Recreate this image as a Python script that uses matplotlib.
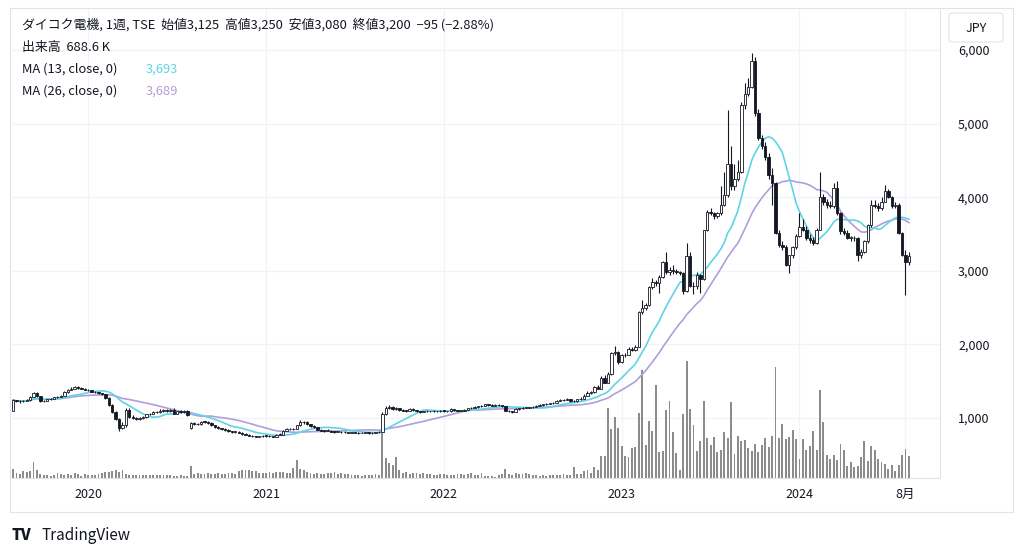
import matplotlib.pyplot as plt
import numpy as np
import pandas as pd
from matplotlib.patches import FancyBboxPatch, Rectangle

plt.rcParams['font.family'] = ['Noto Sans CJK JP', 'DejaVu Sans']

# weekly OHLC (JPY), first bar = week of 2019-08-05
opens = [
    1100, 1240, 1230, 1225, 1235, 1240, 1290, 1340, 1300, 1235, 1230, 1255, 1265, 1280, 1290, 1300, 1350, 1385, 1400, 1420,
    1410, 1400, 1385, 1375, 1360, 1350, 1335, 1320, 1270, 1180, 1080, 990, 870, 900, 1110, 1020, 1000, 990, 1000, 1010,
    1050, 1060, 1080, 1085, 1100, 1105, 1095, 1110, 1060, 1090, 1085, 1100, 870, 935, 920, 915, 950, 945, 930, 900,
    880, 860, 850, 840, 820, 810, 815, 800, 780, 770, 760, 750, 745, 750, 760, 755, 750, 745, 770, 775,
    830, 850, 845, 850, 900, 940, 950, 915, 890, 875, 840, 830, 825, 830, 815, 810, 815, 805, 810, 800,
    805, 800, 795, 800, 805, 790, 800, 805, 815, 1050, 1140, 1150, 1120, 1130, 1110, 1100, 1095, 1120, 1110, 1090,
    1085, 1090, 1095, 1090, 1095, 1090, 1100, 1095, 1090, 1120, 1105, 1100, 1100, 1110, 1130, 1140, 1150, 1160, 1170, 1185,
    1180, 1170, 1180, 1175, 1160, 1100, 1090, 1085, 1120, 1130, 1140, 1140, 1145, 1150, 1165, 1180, 1185, 1195, 1200, 1210,
    1230, 1240, 1250, 1260, 1230, 1225, 1255, 1260, 1300, 1345, 1350, 1420, 1400, 1550, 1480, 1600, 1880, 1900, 1760, 1850,
    1860, 1940, 1925, 1970, 2440, 2500, 2530, 2780, 2850, 2830, 2920, 3120, 2980, 3010, 3000, 2990, 2970, 2720, 3200, 2800,
    2790, 2950, 2890, 3550, 3800, 3790, 3750, 3780, 3900, 4030, 4450, 4150, 4250, 4350, 5250, 5400, 5500, 5850, 5150, 4800,
    4700, 4550, 4300, 4200, 3520, 3350, 3330, 3080, 3210, 3330, 3480, 3600, 3560, 3450, 3420, 3380, 3560, 4000, 3930, 3900,
    3880, 4130, 3790, 3540, 3520, 3450, 3450, 3440, 3220, 3260, 3400, 3620, 3900, 3880, 3850, 3940, 4090, 4010, 3880, 3900,
    3520, 3215, 3125,
]
highs = [
    1260, 1250, 1240, 1245, 1260, 1300, 1360, 1350, 1305, 1250, 1265, 1275, 1290, 1300, 1310, 1365, 1400, 1415, 1440, 1435,
    1420, 1410, 1395, 1385, 1370, 1360, 1345, 1325, 1280, 1190, 1090, 1000, 940, 1140, 1130, 1040, 1015, 1020, 1030, 1060,
    1075, 1095, 1100, 1120, 1125, 1120, 1125, 1130, 1100, 1105, 1115, 1105, 950, 945, 935, 965, 960, 955, 940, 910,
    890, 870, 860, 850, 830, 825, 820, 810, 790, 780, 770, 760, 760, 770, 770, 765, 760, 780, 790, 840,
    860, 860, 865, 910, 970, 965, 955, 925, 900, 880, 850, 840, 845, 835, 825, 825, 820, 820, 815, 815,
    810, 805, 810, 815, 810, 810, 815, 820, 1080, 1160, 1175, 1160, 1145, 1140, 1120, 1115, 1135, 1130, 1115, 1100,
    1100, 1105, 1100, 1105, 1100, 1110, 1105, 1100, 1130, 1125, 1115, 1110, 1120, 1140, 1150, 1160, 1170, 1180, 1195, 1195,
    1185, 1190, 1190, 1180, 1165, 1110, 1100, 1130, 1140, 1150, 1150, 1155, 1160, 1175, 1190, 1195, 1205, 1210, 1220, 1245,
    1255, 1265, 1275, 1265, 1245, 1265, 1280, 1320, 1370, 1370, 1440, 1450, 1570, 1590, 1620, 1900, 1980, 1910, 1870, 1880,
    1960, 1970, 1990, 2460, 2600, 2560, 2800, 2900, 2880, 2950, 3130, 3260, 3050, 3080, 3020, 3000, 2990, 3380, 3250, 2850,
    2980, 2960, 3560, 3830, 3850, 3800, 3800, 4150, 4350, 5180, 4700, 4450, 4500, 5300, 5550, 5620, 5960, 5900, 5200, 4850,
    4750, 4600, 4400, 4210, 3560, 3400, 3350, 3220, 3340, 3500, 3780, 3700, 3610, 3500, 3460, 3580, 4350, 4050, 3980, 3950,
    4200, 4220, 3800, 3580, 3550, 3480, 3480, 3460, 3300, 3420, 3640, 3960, 3960, 3920, 4000, 4170, 4110, 4020, 3940, 3920,
    3530, 3280, 3250,
]
lows = [
    1090, 1215, 1210, 1215, 1225, 1235, 1280, 1290, 1220, 1220, 1225, 1245, 1255, 1270, 1280, 1295, 1340, 1375, 1390, 1400,
    1390, 1375, 1365, 1350, 1340, 1325, 1310, 1260, 1170, 1070, 970, 820, 850, 880, 1000, 985, 970, 975, 990, 1000,
    1040, 1050, 1065, 1075, 1085, 1080, 1085, 1050, 1050, 1070, 1075, 1030, 855, 910, 905, 910, 935, 920, 895, 870,
    855, 840, 830, 815, 800, 800, 795, 775, 765, 755, 745, 740, 740, 745, 745, 745, 740, 740, 765, 770,
    820, 835, 835, 845, 895, 925, 905, 880, 865, 835, 820, 815, 820, 810, 800, 805, 800, 800, 795, 795,
    790, 785, 790, 795, 785, 785, 795, 800, 810, 1040, 1120, 1110, 1110, 1100, 1090, 1085, 1090, 1100, 1080, 1075,
    1080, 1085, 1080, 1085, 1080, 1085, 1085, 1080, 1085, 1095, 1090, 1090, 1095, 1105, 1120, 1130, 1140, 1150, 1160, 1170,
    1160, 1165, 1165, 1150, 1090, 1080, 1075, 1080, 1115, 1125, 1130, 1135, 1140, 1145, 1160, 1170, 1180, 1185, 1195, 1205,
    1225, 1230, 1240, 1220, 1215, 1220, 1245, 1255, 1295, 1330, 1345, 1390, 1395, 1470, 1470, 1590, 1850, 1740, 1750, 1830,
    1850, 1910, 1915, 1960, 2420, 2470, 2520, 2760, 2800, 2700, 2900, 2960, 2950, 2960, 2960, 2940, 2680, 2710, 2780, 2680,
    2760, 2700, 2880, 3540, 3760, 3700, 3720, 3760, 3880, 4000, 4100, 4100, 4220, 4330, 5200, 5380, 5480, 5100, 4780, 4650,
    4500, 4250, 3900, 3500, 3330, 3280, 3060, 2970, 3180, 3300, 3460, 3540, 3420, 3380, 3350, 3370, 3550, 3900, 3860, 3850,
    3860, 3760, 3500, 3490, 3430, 3410, 3400, 3130, 3180, 3240, 3380, 3600, 3850, 3820, 3830, 3930, 3990, 3860, 3850, 3500,
    3200, 2672, 3080,
]
closes = [
    1240, 1230, 1225, 1235, 1240, 1290, 1340, 1300, 1235, 1230, 1255, 1265, 1280, 1290, 1300, 1350, 1385, 1400, 1420, 1410,
    1400, 1385, 1375, 1360, 1350, 1335, 1320, 1270, 1180, 1080, 990, 870, 900, 1110, 1020, 1000, 990, 1000, 1010, 1050,
    1060, 1080, 1085, 1100, 1105, 1095, 1110, 1060, 1090, 1085, 1100, 1040, 935, 920, 915, 950, 945, 930, 900, 880,
    860, 850, 840, 820, 810, 815, 800, 780, 770, 760, 750, 745, 750, 760, 755, 750, 745, 770, 775, 830,
    850, 845, 850, 900, 940, 950, 915, 890, 875, 840, 830, 825, 830, 815, 810, 815, 805, 810, 800, 805,
    800, 795, 800, 805, 790, 800, 805, 810, 1050, 1140, 1150, 1120, 1130, 1110, 1100, 1095, 1120, 1110, 1090, 1085,
    1090, 1095, 1090, 1095, 1090, 1100, 1095, 1090, 1120, 1105, 1100, 1100, 1110, 1130, 1140, 1150, 1160, 1170, 1185, 1180,
    1170, 1180, 1175, 1160, 1100, 1090, 1085, 1120, 1130, 1140, 1140, 1145, 1150, 1165, 1180, 1185, 1195, 1200, 1210, 1230,
    1240, 1250, 1260, 1230, 1225, 1255, 1260, 1300, 1345, 1350, 1420, 1400, 1550, 1480, 1600, 1880, 1900, 1760, 1850, 1860,
    1940, 1925, 1970, 2440, 2500, 2530, 2780, 2850, 2830, 2920, 3120, 2980, 3010, 3000, 2990, 2970, 2720, 3200, 2800, 2790,
    2950, 2890, 3550, 3800, 3790, 3750, 3780, 3900, 4030, 4450, 4150, 4250, 4350, 5250, 5400, 5500, 5850, 5150, 4800, 4700,
    4550, 4300, 4200, 3520, 3350, 3330, 3080, 3210, 3330, 3480, 3600, 3560, 3450, 3420, 3380, 3560, 4000, 3930, 3900, 3880,
    4130, 3790, 3540, 3520, 3450, 3450, 3440, 3220, 3260, 3400, 3620, 3900, 3880, 3850, 3940, 4090, 4010, 3880, 3900, 3520,
    3215, 3125, 3200,
]
# weekly volume in thousands of shares
volumes_k = [
    270, 150, 130, 220, 180, 220, 470, 230, 130, 100, 80, 70, 80, 150, 130, 100, 130, 100, 150, 120,
    70, 110, 100, 90, 100, 110, 150, 170, 190, 220, 230, 190, 230, 130, 100, 90, 100, 80, 100, 100,
    100, 90, 100, 90, 80, 100, 80, 70, 70, 80, 60, 70, 350, 130, 140, 120, 130, 150, 120, 130,
    140, 130, 120, 150, 140, 130, 200, 230, 250, 250, 220, 200, 160, 150, 140, 170, 160, 180, 170, 170,
    150, 160, 300, 530, 280, 250, 180, 160, 120, 150, 130, 110, 150, 140, 170, 120, 150, 110, 120, 90,
    80, 100, 70, 80, 100, 80, 110, 100, 1350, 600, 450, 400, 630, 230, 150, 170, 130, 140, 150, 130,
    140, 120, 130, 100, 90, 110, 130, 100, 90, 100, 110, 120, 90, 130, 150, 100,
    100, 150, 70, 70, 50, 40, 100, 130, 280, 130, 100, 150, 130, 130, 150, 130, 80, 80, 70, 80,
    70, 80, 80, 80, 100, 120, 90, 80, 320, 130, 130, 200, 230, 150, 320, 240, 670, 670, 2080, 1470,
    1820, 1490, 950, 650, 620, 900, 920, 1940, 3220, 1000, 1700, 1420, 2780, 780, 820, 2030, 2300, 1380, 750, 250,
    1900, 3500, 2050, 1600, 820, 1100, 2300, 1200, 1000, 1220, 780, 830, 1380, 1200, 2270, 730, 1270, 1120, 1150, 900,
    800, 1030, 780, 980, 1200, 920, 1270, 3330, 1200, 1620, 1180, 1220, 1430, 1180, 570, 1180, 830, 970, 1420, 830,
    2620, 1670, 700, 580, 700, 530, 1030, 850, 350, 470, 320, 350, 630, 1120, 500, 950, 830, 570, 470, 420,
    280, 380, 220, 400, 680, 880, 670,
]
first_week = "2019-08-05"
price_ticks = [1000, 2000, 3000, 4000, 5000, 6000]

header = "ダイコク電機, 1週, TSE  始値3,125  高値3,250  安値3,080  終値3,200  −95 (−2.88%)"
volume_label = "出来高  688.6 K"
ma13_label, ma13_last = "MA (13, close, 0)", "3,693"
ma26_label, ma26_last = "MA (26, close, 0)", "3,689"

TEXT = "#131722"
MA13_COLOR = "#5fd4e6"
MA26_COLOR = "#b39ddb"
GRID = "#f0f3fa"
BORDER = "#e0e3eb"

o = np.array(opens)
h = np.array(highs)
l = np.array(lows)
c = np.array(closes)
idx = np.arange(len(c))
weeks = pd.date_range(first_week, periods=len(c), freq="W-MON")
ma13 = pd.Series(c).rolling(13, min_periods=1).mean()
ma26 = pd.Series(c).rolling(26, min_periods=1).mean()

W, H = 1024, 557
fig = plt.figure(figsize=(W / 100, H / 100), dpi=100)


def px(x, y):
    return x / W, 1 - y / H


ax = fig.add_axes([12 / W, 1 - 478 / H, 928 / W, 468 / H])
ax.set_xlim(-0.3, 271.1)
ax.set_ylim(185, 6545)

# volume in the lower part of the same pane
ax.bar(idx, np.array(volumes_k) / 14000, width=0.55, bottom=0, color="#8c8c8c",
       transform=ax.get_xaxis_transform(), zorder=1)

ax.plot(idx, ma26, color=MA26_COLOR, lw=1.2, zorder=2)
ax.plot(idx, ma13, color=MA13_COLOR, lw=1.2, zorder=2)

up = c >= o
body_low = np.minimum(o, c)
body_h = np.maximum(np.abs(c - o), 8)
ax.vlines(idx, l, h, color=TEXT, lw=0.8, zorder=3)
ax.bar(idx, body_h, bottom=body_low, width=0.7, color=np.where(up, "white", TEXT),
       edgecolor=TEXT, linewidth=0.6, zorder=4)

# time axis ticks: first bar of each year and of August 2024
tick_pos, tick_lab = [], []
for i, d in enumerate(weeks):
    if i > 0 and d.year != weeks[i - 1].year:
        tick_pos.append(i)
        tick_lab.append(str(d.year))
    if i > 0 and d.year == 2024 and d.month == 8 and weeks[i - 1].month != 8:
        tick_pos.append(i)
        tick_lab.append("8月")
ax.set_xticks(tick_pos)
ax.set_xticklabels(tick_lab)
ax.set_yticks(price_ticks)
ax.set_yticklabels([f"{v:,}" for v in price_ticks])
ax.yaxis.tick_right()
ax.tick_params(axis="y", length=0, pad=13, labelsize=9, labelcolor=TEXT)
ax.tick_params(axis="x", length=0, pad=7, labelsize=9, labelcolor=TEXT)
ax.grid(True, color=GRID, lw=0.9, zorder=0)
ax.set_axisbelow(True)
for side in ["top", "left"]:
    ax.spines[side].set_visible(False)
ax.spines["right"].set_color(BORDER)
ax.spines["bottom"].set_color(BORDER)

# outer frame of the chart widget
fx, fy = px(10, 512)
fig.patches.append(Rectangle((fx, fy), 1003 / W, 504 / H, transform=fig.transFigure,
                             fill=False, edgecolor=BORDER, lw=0.8))

# currency box
bx, by = px(949, 42)
fig.patches.append(FancyBboxPatch((bx, by), 54 / W, 29 / H, boxstyle="round,pad=0,rounding_size=0.004",
                                  transform=fig.transFigure, facecolor="white", edgecolor=BORDER, lw=0.8))
fig.text(*px(976, 28), "JPY", ha="center", va="center", fontsize=9, color=TEXT)

# legend block
fig.text(*px(22, 25), header, ha="left", va="center", fontsize=9.3, color=TEXT)
fig.text(*px(22, 47), volume_label, ha="left", va="center", fontsize=9.3, color=TEXT)
fig.text(*px(22, 69), ma13_label, ha="left", va="center", fontsize=9.3, color=TEXT)
fig.text(*px(146, 69), ma13_last, ha="left", va="center", fontsize=9.3, color=MA13_COLOR)
fig.text(*px(22, 91), ma26_label, ha="left", va="center", fontsize=9.3, color=TEXT)
fig.text(*px(146, 91), ma26_last, ha="left", va="center", fontsize=9.3, color=MA26_COLOR)

# footer logo
fig.text(*px(12, 536), "TV", ha="left", va="center", fontsize=11, fontweight="heavy", color=TEXT)
fig.text(*px(41, 536), "TradingView", ha="left", va="center", fontsize=11, color=TEXT)

fig.savefig("out.png", dpi=100, facecolor="white")
